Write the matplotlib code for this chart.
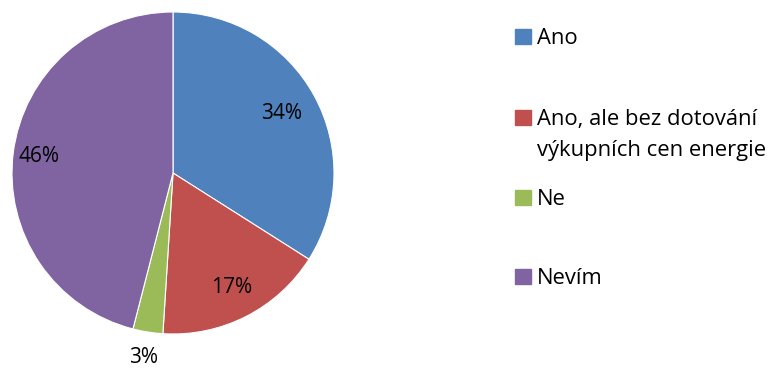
import matplotlib.pyplot as plt
from matplotlib.patches import Rectangle
import numpy as np

labels = ["Ano", "Ano, ale bez dotování\nvýkupních cen energie", "Ne", "Nevím"]
values = [34, 17, 3, 46]
colors = ["#4F81BD", "#C0504D", "#9BBB59", "#8064A2"]
pct_dist = [0.77, 0.8, 1.16, 0.84]

plt.rcParams['font.family'] = ['Open Sans', 'DejaVu Sans']

fig = plt.figure(figsize=(7.84, 3.68), dpi=100)
ax = fig.add_axes([12/784, 34/368, 322/784, 322/368])

wedges, texts, autotexts = ax.pie(values, colors=colors, startangle=90, counterclock=False,
                                  autopct='%1.0f%%', pctdistance=0.8, radius=1,
                                  wedgeprops=dict(edgecolor='white', linewidth=0.8),
                                  textprops=dict(fontsize=15, color='black'))
ax.set_xlim(-1, 1)
ax.set_ylim(-1, 1)
ax.set_aspect('equal')

# push each percentage label to its own distance
for w, t, d in zip(wedges, autotexts, pct_dist):
    ang = np.deg2rad((w.theta1 + w.theta2) / 2)
    t.set_position((d * np.cos(ang), d * np.sin(ang)))
    t.set_clip_on(False)

# legend drawn by hand to keep Excel-like spacing (square level with first line)
leg_y = [36, 117, 197, 276]
for lab, col, y in zip(labels, colors, leg_y):
    fig.patches.append(Rectangle((515/784, 1 - (y + 8)/368), 16/784, 15/368,
                                 transform=fig.transFigure, color=col))
    for i, line in enumerate(lab.split("\n")):
        fig.text(537/784, 1 - (y + 8 + 31 * i)/368, line, fontsize=15.8,
                 va='baseline', ha='left')

fig.savefig("out.png", dpi=100)
